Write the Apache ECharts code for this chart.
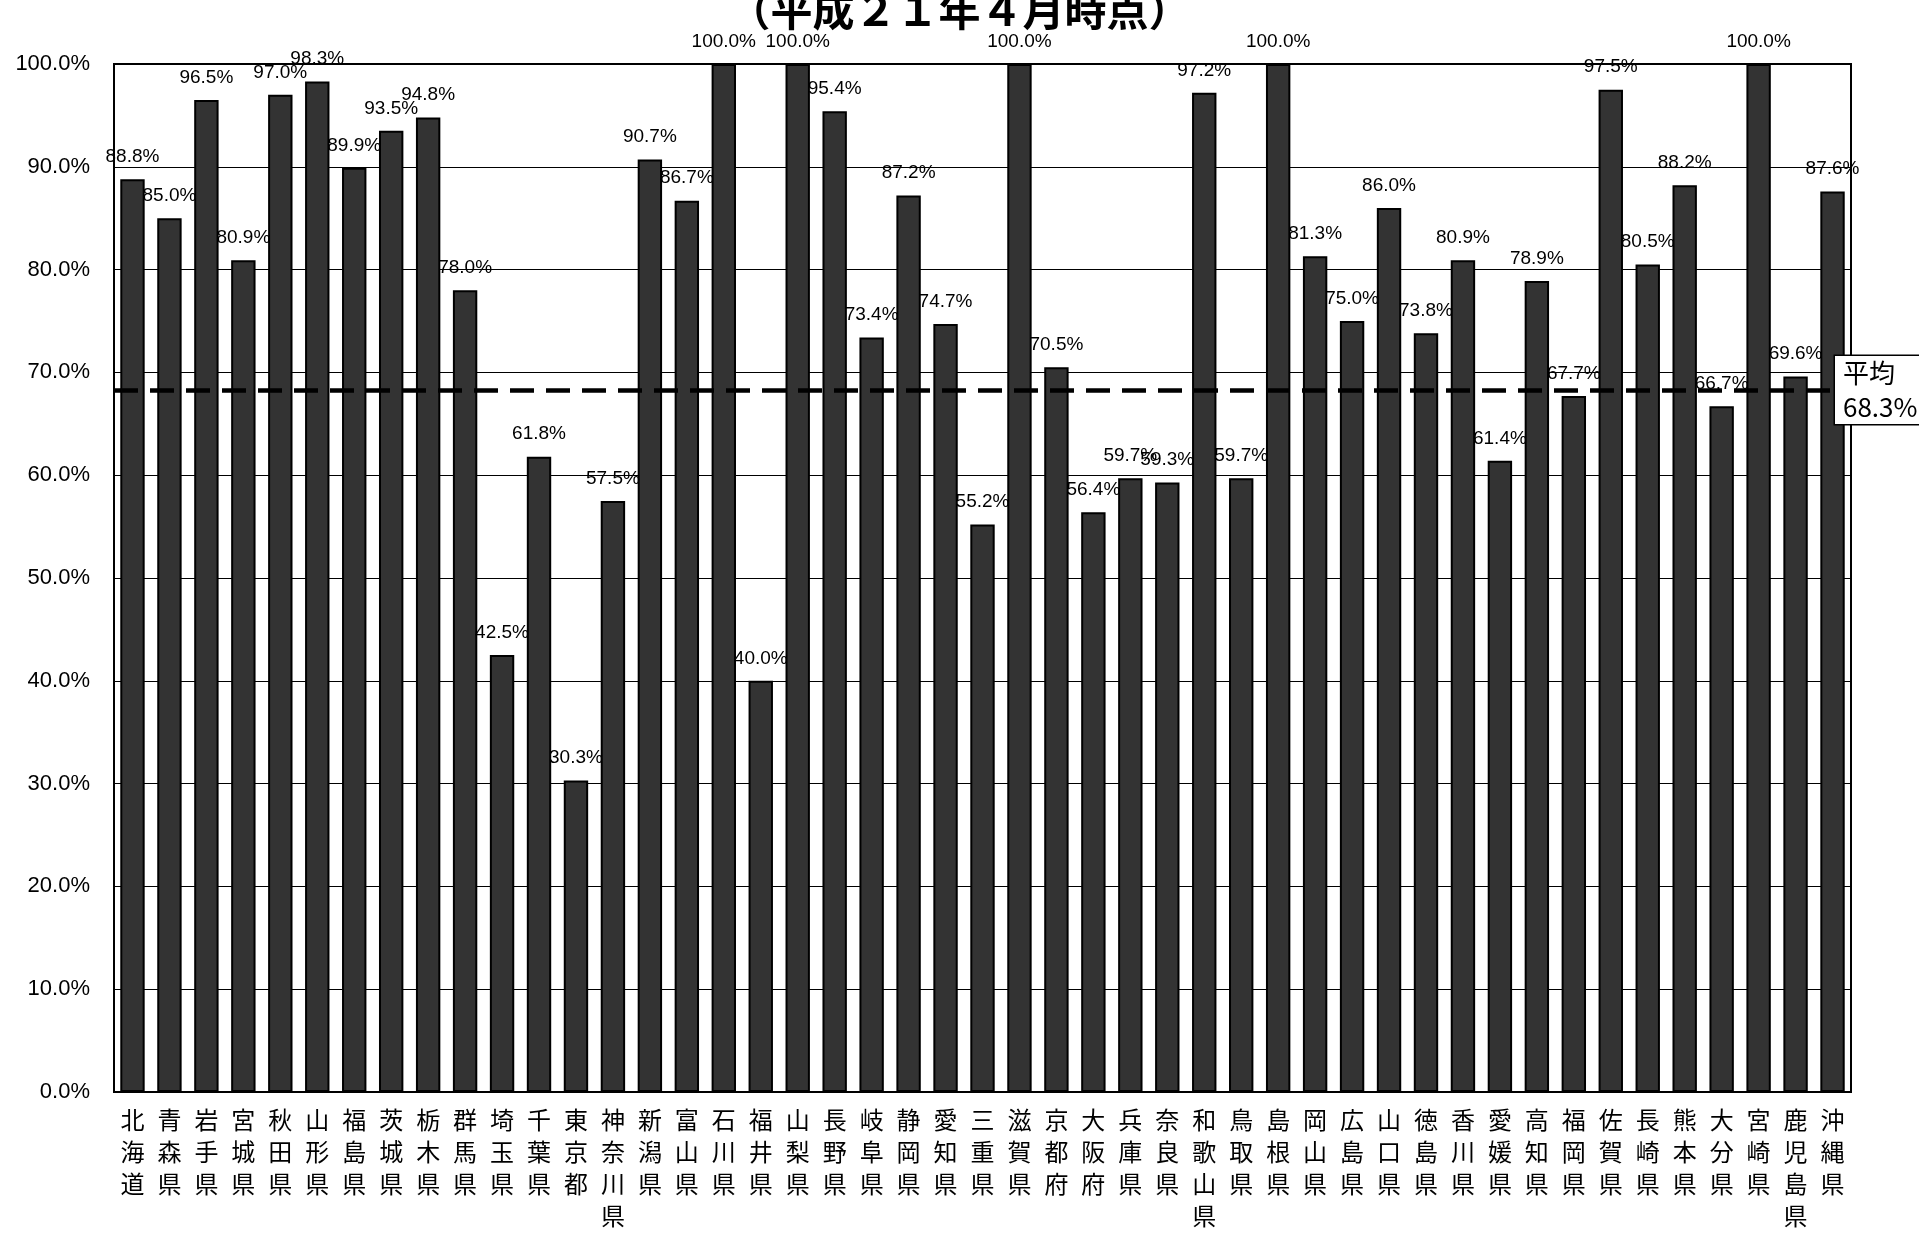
<!DOCTYPE html>
<html>
<head>
<meta charset="utf-8">
<script src="https://cdn.jsdelivr.net/npm/echarts@6/dist/echarts.min.js"></script>
<style>
html,body{margin:0;padding:0;background:#fff;}
#chart{width:1919px;height:1234px;}
</style>
</head>
<body>
<div id="chart"></div>
<script>
const titleText = '（平成２１年４月時点）';
const categories = ['北海道','青森県','岩手県','宮城県','秋田県','山形県','福島県','茨城県','栃木県','群馬県',
  '埼玉県','千葉県','東京都','神奈川県','新潟県','富山県','石川県','福井県','山梨県','長野県',
  '岐阜県','静岡県','愛知県','三重県','滋賀県','京都府','大阪府','兵庫県','奈良県','和歌山県',
  '鳥取県','島根県','岡山県','広島県','山口県','徳島県','香川県','愛媛県','高知県','福岡県',
  '佐賀県','長崎県','熊本県','大分県','宮崎県','鹿児島県','沖縄県'];
const rates = [88.8,85.0,96.5,80.9,97.0,98.3,89.9,93.5,94.8,78.0,
  42.5,61.8,30.3,57.5,90.7,86.7,100.0,40.0,100.0,95.4,
  73.4,87.2,74.7,55.2,100.0,70.5,56.4,59.7,59.3,97.2,
  59.7,100.0,81.3,75.0,86.0,73.8,80.9,61.4,78.9,67.7,
  97.5,80.5,88.2,66.7,100.0,69.6,87.6];
const average = 68.3;
const averageLabel = '平均';
const yMin = 0, yMax = 100, yStep = 10;

const chart = echarts.init(document.getElementById('chart'));
const option = {
  animation: false,
  backgroundColor: '#ffffff',
  title: {
    text: titleText,
    left: 'center',
    top: -16,
    textStyle: {fontSize: 42, fontWeight: 'bold', color: '#000', fontFamily: 'Noto Sans CJK JP'}
  },
  grid: {left: 114, right: 68, top: 64, bottom: 142, show: true, borderColor: '#000', borderWidth: 2},
  xAxis: {
    type: 'category',
    data: categories,
    axisLine: {lineStyle: {color: '#000', width: 2}},
    axisTick: {inside: true, length: 9, lineStyle: {color: '#000', width: 1.5}},
    axisLabel: {
      interval: 0,
      formatter: s => s.split('').join('\n'),
      fontSize: 24, lineHeight: 32, color: '#000',
      fontFamily: 'Noto Sans CJK JP', margin: 12
    }
  },
  yAxis: {
    type: 'value', min: yMin, max: yMax, interval: yStep,
    axisLine: {show: true, lineStyle: {color: '#000', width: 2}},
    axisTick: {show: false},
    splitLine: {lineStyle: {color: '#000', width: 1.2}},
    axisLabel: {formatter: v => v.toFixed(1) + '%', fontSize: 22, color: '#000', margin: 24, fontFamily: 'Liberation Sans'}
  },
  series: [{
    type: 'bar',
    data: rates,
    barWidth: '66%',
    itemStyle: {color: '#333333', borderColor: '#000', borderWidth: 2},
    label: {
      show: true, position: 'top', distance: 13,
      formatter: p => p.value.toFixed(1) + '%',
      fontSize: 19, color: '#000', fontFamily: 'Liberation Sans'
    },
    markLine: {
      silent: true,
      symbol: 'none',
      data: [{yAxis: average}],
      lineStyle: {type: [24, 12], color: '#000', width: 4.5},
      label: {
        position: 'end',
        distance: -16,
        formatter: averageLabel + '\n' + average.toFixed(1) + '%',
        fontSize: 26, lineHeight: 34, color: '#000',
        fontFamily: 'Noto Sans CJK JP',
        align: 'left',
        backgroundColor: '#fff', borderColor: '#000', borderWidth: 1.5,
        padding: [0, 60, 0, 8]
      }
    }
  }]
};
chart.setOption(option);
</script>
</body>
</html>
